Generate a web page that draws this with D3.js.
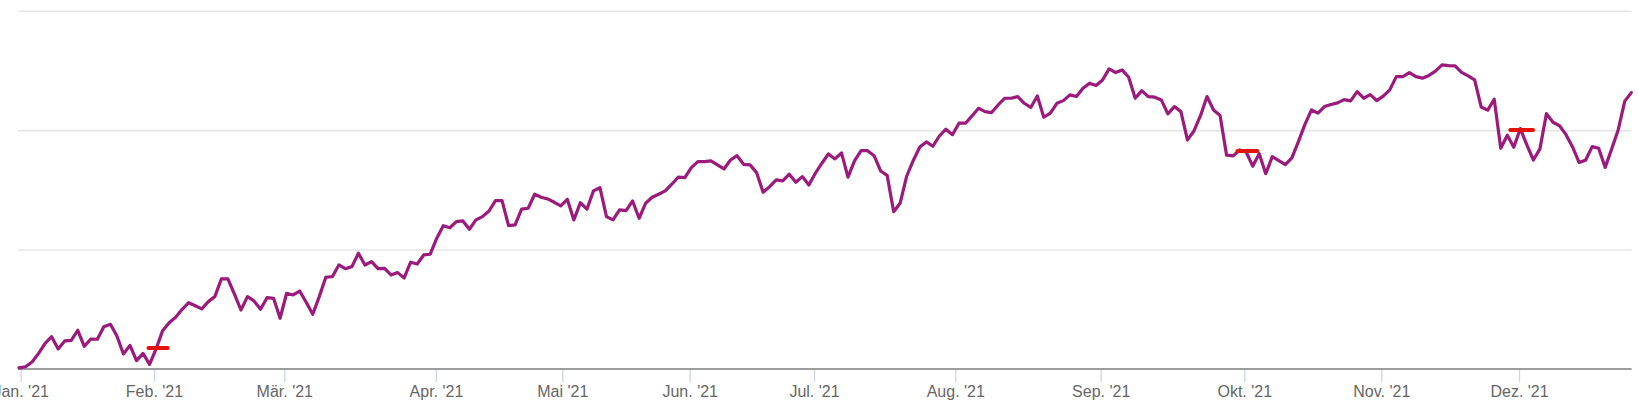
<!DOCTYPE html>
<html>
<head>
<meta charset="utf-8">
<script src="https://cdn.jsdelivr.net/npm/d3@7"></script>
<style>
  html, body { margin: 0; padding: 0; background: #fff; }
  svg { display: block; }
</style>
</head>
<body>
<div id="chart"></div>
<script>
// ---- data (one value per trading day, performance in %) ----
const values = [
  0.10, 0.19, 0.59, 1.31, 2.15, 2.71, 1.68, 2.35, 2.40, 3.24,
  1.90, 2.51, 2.49, 3.54, 3.74, 2.76, 1.26, 1.98, 0.70, 1.31,
  0.39, 1.68, 3.21, 3.88, 4.33, 5.00, 5.55, 5.30, 5.03, 5.64,
  6.06, 7.54, 7.54, 6.28, 4.94, 6.06, 5.70, 5.00, 5.97, 5.92,
  4.25, 6.34, 6.20, 6.53, 5.59, 4.58, 6.06, 7.68, 7.73, 8.71,
  8.40, 8.57, 9.69, 8.71, 8.99, 8.40, 8.43, 7.87, 8.07, 7.62,
  8.94, 8.79, 9.55, 9.61, 10.95, 12.00, 11.83, 12.34, 12.40, 11.70,
  12.48, 12.76, 13.23, 14.10, 14.10, 12.00, 12.06, 13.38, 13.46, 14.63,
  14.38, 14.24, 13.96, 13.65, 14.21, 12.48, 13.93, 13.38, 14.91, 15.18,
  12.76, 12.48, 13.32, 13.26, 14.07, 12.62, 13.88, 14.38, 14.63, 14.91,
  15.47, 16.06, 16.02, 16.86, 17.36, 17.36, 17.42, 17.09, 16.75, 17.50,
  17.86, 17.14, 17.09, 16.44, 14.80, 15.27, 15.83, 15.75, 16.31, 15.64,
  16.11, 15.41, 16.39, 17.23, 18.01, 17.59, 18.09, 16.06, 17.42, 18.28,
  18.28, 17.86, 16.58, 16.21, 13.17, 13.90, 16.16, 17.46, 18.59, 19.01,
  18.65, 19.51, 20.08, 19.62, 20.58, 20.58, 21.19, 21.83, 21.55, 21.47,
  22.11, 22.67, 22.67, 22.81, 22.25, 21.90, 22.86, 21.08, 21.42, 22.25,
  22.47, 22.95, 22.81, 23.51, 23.93, 23.73, 24.20, 25.13, 24.82, 25.04,
  24.43, 22.67, 23.31, 22.81, 22.76, 22.53, 21.36, 21.97, 21.55, 19.18,
  19.93, 21.21, 22.81, 21.69, 21.23, 17.90, 17.84, 18.34, 18.17, 16.98,
  18.03, 16.35, 17.78, 17.45, 17.11, 17.67, 19.04, 20.48, 21.69, 21.42,
  21.97, 22.15, 22.28, 22.55, 22.45, 23.22, 22.67, 22.97, 22.47, 22.85,
  23.37, 24.48, 24.48, 24.82, 24.48, 24.35, 24.58, 24.94, 25.46, 25.40,
  25.38, 24.83, 24.54, 24.20, 21.94, 21.67, 22.59, 18.48, 19.57, 18.57,
  20.13, 18.76, 17.50, 18.43, 21.38, 20.66, 20.37, 19.62, 18.59, 17.30,
  17.48, 18.62, 18.48, 16.88, 18.43, 20.04, 22.43, 23.14
];

// month ticks: position on the trading-day axis and label
const monthTickPos = [0.26, 20.68, 40.64, 63.88, 83.23, 102.75, 121.79, 143.44, 165.71, 187.71, 208.7, 229.8];
const monthLabels = ["Jan. '21", "Feb. '21", "Mär. '21", "Apr. '21", "Mai '21", "Jun. '21",
                     "Jul. '21", "Aug. '21", "Sep. '21", "Okt. '21", "Nov. '21", "Dez. '21"];

// horizontal grid values (y axis, labels hidden)
const gridValues = [10, 20, 30];

// red markers: [start index, end index, value]
const markerStart = [19.84, 186.67, 228.46];
const markerEnd   = [22.78, 189.70, 231.94];
const markerValue = [1.76, 18.26, 20.02];

// ---- drawing ----
const W = 1639, H = 412;
const plotLeft = 18, plotRight = 1631.5, plotTop = 10.7, plotBottom = 369;

const svg = d3.select("#chart").append("svg")
  .attr("width", W).attr("height", H)
  .style("font-family", "'DejaVu Sans', Verdana, sans-serif");

const x = d3.scaleLinear().domain([0, values.length - 1]).range([19, 1631.3]);
const y = d3.scaleLinear().domain([0, 30]).range([plotBottom, plotTop]);

// grid
const grid = svg.append("g").attr("transform", `translate(${plotLeft},0)`)
  .call(d3.axisLeft(y).tickValues(gridValues).tickSize(-(plotRight - plotLeft)).tickFormat(""));
grid.select(".domain").remove();
grid.selectAll(".tick line").attr("stroke", "#e6e6e6").attr("stroke-width", 1.6);

// x axis
const xAxis = svg.append("g").attr("transform", `translate(0,${plotBottom})`)
  .call(d3.axisBottom(x).tickValues(monthTickPos)
    .tickFormat((d, i) => monthLabels[i]).tickSize(13).tickSizeOuter(0));
xAxis.select(".domain").remove();
xAxis.selectAll(".tick line").attr("stroke", "#ccd6eb").attr("stroke-width", 1.3);
xAxis.selectAll(".tick text")
  .attr("y", 28).attr("dy", 0)
  .attr("fill", "#666").style("font-size", "16px");

svg.append("line")
  .attr("x1", plotLeft).attr("x2", plotRight)
  .attr("y1", plotBottom).attr("y2", plotBottom)
  .attr("stroke", "#7d7d7d").attr("stroke-width", 1.6);

// series line
const line = d3.line().x((d, i) => x(i)).y(d => y(d));
svg.append("path")
  .datum(values)
  .attr("d", line)
  .attr("fill", "none")
  .attr("stroke", "#9b1a7b")
  .attr("stroke-width", 3.2)
  .attr("stroke-linejoin", "round")
  .attr("stroke-linecap", "round");

// red markers
svg.append("g").selectAll("line")
  .data(markerValue.map((v, i) => ({ s: markerStart[i], e: markerEnd[i], v })))
  .join("line")
  .attr("x1", d => x(d.s)).attr("x2", d => x(d.e))
  .attr("y1", d => y(d.v)).attr("y2", d => y(d.v))
  .attr("stroke", "#e3120b")
  .attr("stroke-width", 4)
  .attr("stroke-linecap", "round");
</script>
</body>
</html>
